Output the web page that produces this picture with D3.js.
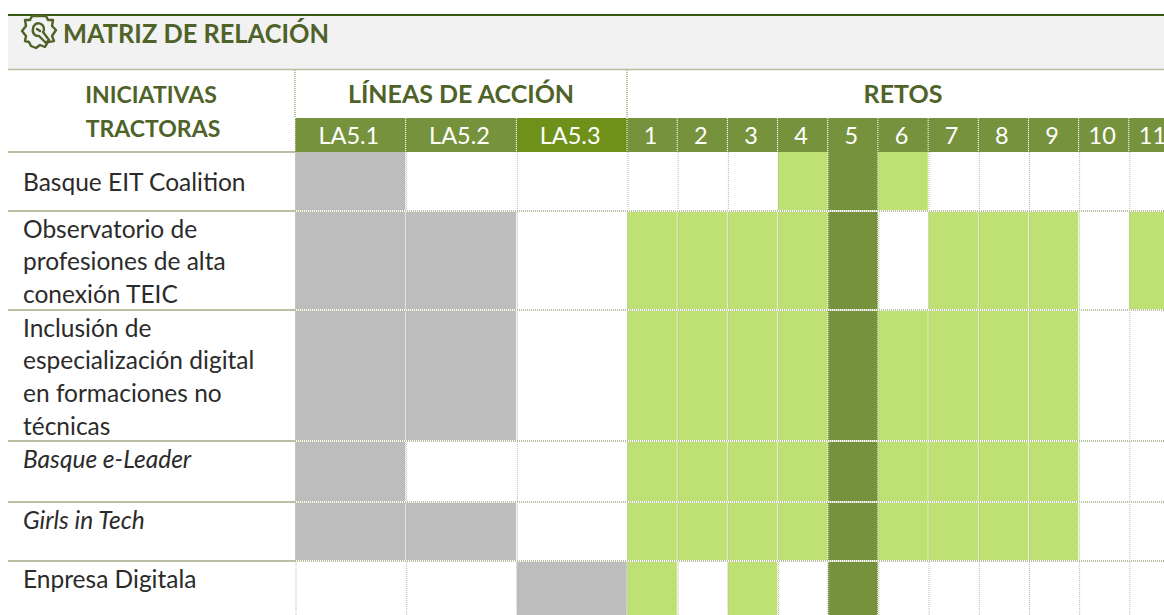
<!DOCTYPE html>
<html>
<head>
<meta charset="utf-8">
<script src="https://d3js.org/d3.v7.min.js"></script>
<style>
html,body { margin:0; padding:0; background:#fff; overflow:hidden; }
text { font-family:Lato, "Open Sans", sans-serif; }
</style>
</head>
<body>
<svg id="chart" width="1164" height="615"></svg>
<script>
// data
const lineas = ["LA5.1", "LA5.2", "LA5.3"];
const retos = ["1", "2", "3", "4", "5", "6", "7", "8", "9", "10", "11"];
const iniciativas = ["Basque EIT Coalition", "Observatorio", "Inclusión", "Basque e-Leader", "Girls in Tech", "Enpresa Digitala"];
const rowLabels = [
  ["Basque EIT Coalition"],
  ["Observatorio de", "profesiones de alta", "conexión TEIC"],
  ["Inclusión de", "especialización digital", "en formaciones no", "técnicas"],
  ["Basque e-Leader"],
  ["Girls in Tech"],
  ["Enpresa Digitala"]
];
const italicRows = ["Basque e-Leader", "Girls in Tech"];
const lineaMarks = [["LA5.1"], ["LA5.1", "LA5.2"], ["LA5.1", "LA5.2"], ["LA5.1"], ["LA5.1", "LA5.2"], ["LA5.3"]];
const retoMarks = [
  ["4", "5", "6"],
  ["1", "2", "3", "4", "5", "7", "8", "9", "11"],
  ["1", "2", "3", "4", "5", "6", "7", "8", "9"],
  ["1", "2", "3", "4", "5", "6", "7", "8", "9"],
  ["1", "2", "3", "4", "5", "6", "7", "8", "9"],
  ["1", "3", "5"]
];

// layout
const rowEdges = [152, 211, 310, 441, 502, 561, 615];
const green = "#76923c", dark = "#4f6228", light = "#bfe173", gray = "#bdbdbd", text = "#2b2b2b";
const rule = "#b7c1a2";

const svg = d3.select("#chart");
const xL = d3.scaleBand().domain(lineas).range([295, 627]);
const xR = d3.scaleBand().domain(retos).range([627, 1179]);
const yTop = d3.scaleOrdinal().domain(iniciativas).range(rowEdges.slice(0, -1));
const yBot = d3.scaleOrdinal().domain(iniciativas).range(rowEdges.slice(1));

// title band
svg.append("rect").attr("x", 8).attr("y", 15).attr("width", 1156).attr("height", 54).attr("fill", "#f2f2f2");
svg.append("rect").attr("x", 8).attr("y", 14).attr("width", 1156).attr("height", 2).attr("fill", "#34590f");
svg.append("text").attr("x", 63).attr("y", 43).attr("font-size", 26).attr("font-weight", 700)
  .attr("fill", dark).attr("textLength", 266).attr("lengthAdjust", "spacingAndGlyphs").text("MATRIZ DE RELACIÓN");

// icon: cog outline with wrench
const cog = svg.append("g").attr("transform", "translate(39,32)").attr("fill", "none")
  .attr("stroke", dark).attr("stroke-width", 2.4).attr("stroke-linejoin", "round").attr("stroke-linecap", "round");
cog.append("path").attr("d", "M-7,-16 L7,-16 L9,-12 L14,-12 L13,-6 L17,-2 L13,4 L15,9 L9,10 L6,15 L1,13 L-3,16 L-8,14 L-10,10 L-14,9 L-13,4 L-17,-1 L-13,-6 L-14,-12 L-9,-12 Z");
cog.append("path").attr("d", "M-6,-3 A5.5,5.5 0 1 1 4,0 L10,8 L7,11 L0,4 A5.5,5.5 0 0 1 -6,-3 Z M-2,-3 L1,-1");

// header texts
const head = [["INICIATIVAS", 151, 103, 23], ["TRACTORAS", 153, 137, 23], ["LÍNEAS DE ACCIÓN", 461, 103, 25], ["RETOS", 903, 103, 25]];
svg.append("g").selectAll("text").data(head).join("text")
  .attr("x", d => d[1]).attr("y", d => d[2]).attr("text-anchor", "middle")
  .attr("font-size", d => d[3]).attr("font-weight", 700).attr("fill", dark)
  .text(d => d[0]);

// header cells
svg.append("g").selectAll("rect").data(lineas).join("rect")
  .attr("x", d => xL(d)).attr("y", 118).attr("width", xL.bandwidth()).attr("height", 34)
  .attr("fill", d => d === "LA5.3" ? "#6f9119" : green);
svg.append("g").selectAll("rect").data(retos).join("rect")
  .attr("x", d => xR(d)).attr("y", 118).attr("width", xR.bandwidth()).attr("height", 34).attr("fill", green);
const headCell = (sel, x, band) => sel.join("text")
  .attr("x", d => x(d) + band / 2 - 1.5).attr("y", 144).attr("text-anchor", "middle")
  .attr("font-size", 23.5).attr("fill", "#fff").text(d => d);
headCell(svg.append("g").selectAll("text").data(lineas), xL, xL.bandwidth());
headCell(svg.append("g").selectAll("text").data(retos), xR, xR.bandwidth());

// body cells
iniciativas.forEach((row, i) => {
  const g = svg.append("g");
  g.selectAll("rect.la").data(lineaMarks[i]).join("rect").attr("class", "la")
    .attr("x", d => xL(d)).attr("y", yTop(row)).attr("width", xL.bandwidth()).attr("height", yBot(row) - yTop(row))
    .attr("fill", gray);
  g.selectAll("rect.re").data(retoMarks[i]).join("rect").attr("class", "re")
    .attr("x", d => xR(d)).attr("y", yTop(row)).attr("width", xR.bandwidth()).attr("height", yBot(row) - yTop(row))
    .attr("fill", d => d === "5" ? green : light);
  g.selectAll("text").data(rowLabels[i]).join("text")
    .attr("x", 23).attr("y", (d, j) => yTop(row) + (rowLabels[i].length > 1 ? 26.5 + j * 32.7 : i === 0 ? 39 : 26.5))
    .attr("font-size", 24.5).attr("fill", text)
    .attr("font-style", italicRows.includes(rowLabels[i][0]) ? "italic" : "normal")
    .text(d => d);
});

// grid: dotted verticals, row rules
const colEdges = lineas.map(d => xL(d)).concat(retos.map(d => xR(d)));
svg.append("g").selectAll("line").data(colEdges).join("line")
  .attr("x1", d => d).attr("x2", d => d).attr("y1", 118).attr("y2", 615)
  .attr("stroke", "#fff").attr("stroke-width", 1).attr("stroke-dasharray", "1 1");
svg.append("g").selectAll("line").data(colEdges).join("line")
  .attr("x1", d => d + 1).attr("x2", d => d + 1).attr("y1", 152).attr("y2", 615)
  .attr("stroke", rule).attr("stroke-width", 1).attr("stroke-dasharray", "1 1");
svg.append("g").selectAll("line").data([295, 627]).join("line")
  .attr("x1", d => d).attr("x2", d => d).attr("y1", 70).attr("y2", 118)
  .attr("stroke", rule).attr("stroke-width", 2).attr("stroke-dasharray", "1 1");
svg.append("line").attr("x1", 8).attr("x2", 1164).attr("y1", 69.5).attr("y2", 69.5).attr("stroke", rule).attr("stroke-width", 1.5);
svg.append("g").selectAll("line").data(rowEdges.slice(0, -1)).join("line")
  .attr("x1", 8).attr("x2", 295).attr("y1", d => d).attr("y2", d => d)
  .attr("stroke", rule).attr("stroke-width", 2);
svg.append("g").selectAll("line").data(rowEdges.slice(1, -1)).join("line")
  .attr("x1", 295).attr("x2", 1164).attr("y1", d => d).attr("y2", d => d)
  .attr("stroke", "#fff").attr("stroke-width", 2);
svg.append("g").selectAll("line").data(rowEdges.slice(1, -1)).join("line")
  .attr("x1", 295).attr("x2", 1164).attr("y1", d => d).attr("y2", d => d)
  .attr("stroke", rule).attr("stroke-width", 2).attr("stroke-dasharray", "1 1");
</script>
</body>
</html>
